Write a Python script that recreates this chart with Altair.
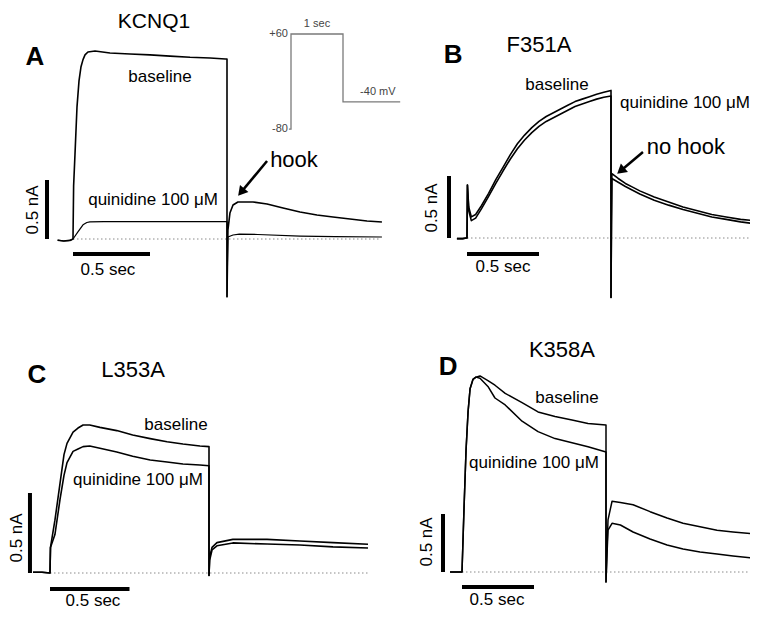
import altair as alt
import pandas as pd

W, H = 742, 603
FONT = "Liberation Sans"

# ---------------- data: time (s), current (nA) ----------------
# Panel A  KCNQ1
tA_base = [-0.1, -0.06, -0.02, 0.0, 0.004, 0.013, 0.026, 0.039, 0.052, 0.065, 0.078, 0.097,
           0.143, 0.24, 0.37, 0.5, 0.63, 0.76, 0.89, 0.99, 1.0, 1.0, 1.003, 1.006,
           1.019, 1.039, 1.071, 1.169, 1.26, 1.364, 1.474, 1.584, 1.688, 1.799, 1.909, 2.006]
iA_base = [-0.01, -0.017, -0.012, 0.0, 0.45, 0.72, 1.12, 1.34, 1.46, 1.52, 1.56, 1.585,
           1.593, 1.576, 1.568, 1.56, 1.55, 1.54, 1.534, 1.525, 1.525, -0.49, -0.2, 0.076,
           0.22, 0.288, 0.314, 0.314, 0.297, 0.263, 0.229, 0.203, 0.186, 0.17, 0.153, 0.144]
tA_quin = [-0.1, -0.06, -0.02, 0.0, 0.032, 0.065, 0.09, 0.11, 0.2, 0.5, 0.8, 1.0, 1.0,
           1.003, 1.006, 1.039, 1.08, 1.2, 1.474, 1.7, 2.006]
iA_quin = [-0.01, -0.017, -0.012, 0.0, 0.06, 0.12, 0.14, 0.145, 0.148, 0.148, 0.147, 0.147, -0.49,
           -0.2, 0.017, 0.034, 0.042, 0.038, 0.025, 0.02, 0.017]

# Panel B  F351A
tB = [-0.07, -0.03, -0.005, 0.0, 0.003, 0.012, 0.03, 0.06, 0.1, 0.15, 0.2, 0.25, 0.3, 0.35,
      0.4, 0.45, 0.5, 0.55, 0.6, 0.65, 0.7, 0.75, 0.8, 0.85, 0.9, 0.95, 1.0, 1.0, 1.003, 1.006,
      1.05, 1.1, 1.15, 1.2, 1.3, 1.4, 1.5, 1.6, 1.7, 1.8, 1.9, 2.0]
iB_base = [-0.005, -0.005, 0.0, 0.0, 0.427, 0.25, 0.17, 0.19, 0.26, 0.36, 0.47, 0.57, 0.67, 0.76,
           0.83, 0.89, 0.94, 0.98, 1.01, 1.04, 1.07, 1.1, 1.12, 1.14, 1.16, 1.175, 1.19, -0.48, 0.1, 0.52,
           0.48, 0.44, 0.41, 0.38, 0.33, 0.29, 0.25, 0.22, 0.19, 0.17, 0.15, 0.14]
iB_quin = [-0.005, -0.005, 0.0, 0.0, 0.427, 0.22, 0.14, 0.16, 0.235, 0.335, 0.44, 0.54, 0.635, 0.72,
           0.79, 0.85, 0.9, 0.94, 0.97, 1.0, 1.03, 1.06, 1.08, 1.1, 1.12, 1.135, 1.145, -0.48, 0.1, 0.48,
           0.45, 0.415, 0.385, 0.355, 0.305, 0.265, 0.23, 0.2, 0.17, 0.15, 0.13, 0.115]

# Panel C  L353A
tC = [-0.107, -0.05, 0.0, 0.003, 0.031, 0.063, 0.088, 0.107, 0.145, 0.176, 0.208, 0.25,
      0.314, 0.42, 0.52, 0.63, 0.736, 0.836, 0.943, 1.0, 1.0, 1.004, 1.019, 1.05, 1.15,
      1.365, 1.572, 1.78, 2.0]
iC_base = [0.005, 0.005, 0.0, 0.16, 0.33, 0.56, 0.74, 0.81, 0.88, 0.906, 0.925, 0.925,
           0.91, 0.89, 0.863, 0.84, 0.82, 0.806, 0.794, 0.79, -0.015, 0.1, 0.16, 0.19, 0.21,
           0.21, 0.2, 0.19, 0.18]
iC_quin = [0.005, 0.005, 0.0, 0.16, 0.24, 0.46, 0.61, 0.69, 0.76, 0.775, 0.79, 0.794,
           0.78, 0.756, 0.73, 0.706, 0.694, 0.681, 0.675, 0.67, -0.015, 0.08, 0.144, 0.17, 0.188,
           0.181, 0.175, 0.163, 0.156]

# Panel D  K358A
tD = [-0.083, -0.04, 0.0, 0.014, 0.028, 0.042, 0.056, 0.076, 0.097, 0.125, 0.18, 0.229,
      0.3, 0.417, 0.528, 0.646, 0.764, 0.875, 1.0, 1.0, 1.007, 1.014, 1.042, 1.1, 1.188,
      1.306, 1.424, 1.535, 1.653, 1.771, 1.882, 2.014]
iD_base = [0.0, 0.0, 0.0, 0.55, 1.05, 1.38, 1.58, 1.66, 1.68, 1.69, 1.65, 1.61,
           1.54, 1.46, 1.38, 1.34, 1.31, 1.28, 1.267, -0.086, 0.2, 0.45, 0.61, 0.6, 0.58,
           0.52, 0.465, 0.42, 0.39, 0.36, 0.345, 0.33]
iD_quin = [0.0, 0.0, 0.0, 0.55, 1.05, 1.38, 1.58, 1.66, 1.68, 1.67, 1.6, 1.5,
           1.44, 1.3, 1.21, 1.15, 1.115, 1.08, 1.035, -0.086, 0.15, 0.36, 0.42, 0.405, 0.345,
           0.284, 0.233, 0.198, 0.172, 0.155, 0.138, 0.12]

# Voltage protocol inset (s, mV)
tP = [-0.04, 0.0, 0.0, 1.0, 1.0, 2.1]
vP = [-80, -80, 60, 60, -40, -40]
inset_labels = ["+60", "-80", "1 sec", "-40 mV"]

titles = ["KCNQ1", "F351A", "L353A", "K358A"]
letters = ["A", "B", "C", "D"]
lab_base = "baseline"
lab_quin = "quinidine 100 \u03bcM"
lab_nA = "0.5 nA"
lab_sec = "0.5 sec"
scale_nA = 0.5
scale_s = 0.5
zero_span = [0.0, 2.0]


def text_layer(X, Y, label, t, i, size, weight="normal", angle=0, align="center", color="black"):
    df = pd.DataFrame({"t": [t], "i": [i], "s": [label]})
    kw = dict(font=FONT, fontSize=size, fontWeight=weight, align=align, baseline="middle", color=color)
    if angle:
        kw["angle"] = angle
    return alt.Chart(df).mark_text(**kw).encode(x=X("t"), y=Y("i"), text="s:N")


def panel(t0, pxs, z, pxn, traces, bar_t, bar_i, texts, arrow=None):
    c = t0 - 8
    xd = [-c / pxs, (W - c) / pxs]
    cy = z - 8
    yd = [-(H - cy) / pxn, cy / pxn]
    xs = alt.Scale(domain=xd, nice=False, zero=False)
    ys = alt.Scale(domain=yd, nice=False, zero=False)

    def X(f):
        return alt.X(f + ":Q", scale=xs, axis=None)

    def Y(f):
        return alt.Y(f + ":Q", scale=ys, axis=None)

    layers = []
    zero = pd.DataFrame({"t": [zero_span[0]], "t2": [zero_span[1]], "i": [0.0]})
    layers.append(alt.Chart(zero).mark_rule(color="#8a8a8a", strokeWidth=1, strokeDash=[1.5, 2.5])
                  .encode(x=X("t"), x2="t2:Q", y=Y("i")))
    for ts, iv, w in traces:
        df = pd.DataFrame({"t": ts, "i": iv, "k": list(range(len(ts)))})
        layers.append(alt.Chart(df).mark_line(color="black", strokeWidth=w, strokeJoin="round")
                      .encode(x=X("t"), y=Y("i"), order="k:Q"))
    bars = pd.DataFrame({"t": [bar_t, 0.0], "t2": [bar_t, scale_s],
                         "i": [0.0, bar_i], "i2": [scale_nA, bar_i]})
    layers.append(alt.Chart(bars).mark_rule(color="black", strokeWidth=4)
                  .encode(x=X("t"), x2="t2:Q", y=Y("i"), y2="i2:Q"))
    for tx in texts:
        layers.append(text_layer(X, Y, *tx))
    if arrow:
        tt, it, th, ih, ang = arrow
        adf = pd.DataFrame({"t": [tt], "t2": [th], "i": [it], "i2": [ih]})
        layers.append(alt.Chart(adf).mark_rule(color="black", strokeWidth=2.5)
                      .encode(x=X("t"), x2="t2:Q", y=Y("i"), y2="i2:Q"))
        hdf = pd.DataFrame({"t": [th], "i": [ih]})
        layers.append(alt.Chart(hdf).mark_point(shape="triangle-up", filled=True, size=120, angle=ang,
                                                color="black", opacity=1)
                      .encode(x=X("t"), y=Y("i")))
    return alt.layer(*layers)


TS, LS, HS, BS = 22, 17, 22, 26

pA = panel(73, 154, 239, 118,
           [(tA_base, iA_base, 1.6), (tA_quin, iA_quin, 1.2)],
           -0.169, -0.127,
           [(titles[0], 0.526, 1.835, 21), (letters[0], -0.247, 1.542, BS, "bold"),
            (lab_base, 0.565, 1.373, LS), (lab_quin, 0.52, 0.33, LS),
            ("hook", 1.435, 0.669, HS),
            (lab_nA, -0.26, 0.246, LS, "normal", 270), (lab_sec, 0.227, -0.263, LS)],
           arrow=(1.26, 0.661, 1.092, 0.397, 219.6))

pB = panel(467, 144, 238, 124,
           [(tB, iB_base, 1.6), (tB, iB_quin, 1.6)],
           -0.125, -0.129,
           [(titles[1], 0.5, 1.556, TS), (letters[1], -0.097, 1.476, BS, "bold"),
            (lab_base, 0.625, 1.234, LS), (lab_quin, 1.514, 1.089, LS),
            ("no hook", 1.52, 0.734, HS),
            (lab_nA, -0.243, 0.242, LS, "normal", 270), (lab_sec, 0.25, -0.234, LS)],
           arrow=(1.222, 0.694, 1.068, 0.542, 229.8))

pC = panel(50, 159, 573, 160,
           [(tC, iC_base, 1.6), (tC, iC_quin, 1.6)],
           -0.126, -0.1,
           [(titles[2], 0.522, 1.269, TS), (letters[2], -0.082, 1.2375, BS, "bold"),
            (lab_base, 0.792, 0.925, LS), (lab_quin, 0.553, 0.581, LS),
            (lab_nA, -0.205, 0.219, LS, "normal", 270), (lab_sec, 0.27, -0.172, LS)])

pD = panel(462, 144, 572, 116,
           [(tD, iD_base, 1.5), (tD, iD_quin, 1.5)],
           -0.132, -0.129,
           [(titles[3], 0.694, 1.914, TS), (letters[3], -0.097, 1.767, BS, "bold"),
            (lab_base, 0.729, 1.5, LS), (lab_quin, 0.5, 0.94, LS),
            (lab_nA, -0.243, 0.259, LS, "normal", 270), (lab_sec, 0.243, -0.24, LS)])

# inset voltage protocol: own time (s) and voltage (mV) scales
ci = 291 - 8
pxs_i = 52.0
cyi = 34 - 8
pxv = 0.679
xsi = alt.Scale(domain=[-ci / pxs_i, (W - ci) / pxs_i], nice=False, zero=False)
ysi = alt.Scale(domain=[60 - (H - cyi) / pxv, 60 + cyi / pxv], nice=False, zero=False)


def Xi(f):
    return alt.X(f + ":Q", scale=xsi, axis=None)


def Yi(f):
    return alt.Y(f + ":Q", scale=ysi, axis=None)


pdf = pd.DataFrame({"t": tP, "i": vP, "k": list(range(len(tP)))})
inset_layers = [alt.Chart(pdf).mark_line(color="#7a7a7a", strokeWidth=1.3)
                .encode(x=Xi("t"), y=Yi("i"), order="k:Q")]
inset_pos = [(-0.06, 60, "right"), (-0.06, -80, "right"), (0.5, 74, "center"), (1.67, -26, "center")]
for lab, (tt, vv, al) in zip(inset_labels, inset_pos):
    inset_layers.append(text_layer(Xi, Yi, lab, tt, vv, 11, "normal", 0, al, "#444444"))
pInset = alt.layer(*inset_layers)

chart = (alt.layer(pA, pInset, pB, pC, pD)
         .resolve_scale(x="independent", y="independent")
         .properties(width=W, height=H, padding=0, background="white",
                     autosize=alt.AutoSizeParams(type="none"))
         .configure_view(strokeWidth=0))

chart.save("out.html", embed_options={"renderer": "svg", "actions": False})
